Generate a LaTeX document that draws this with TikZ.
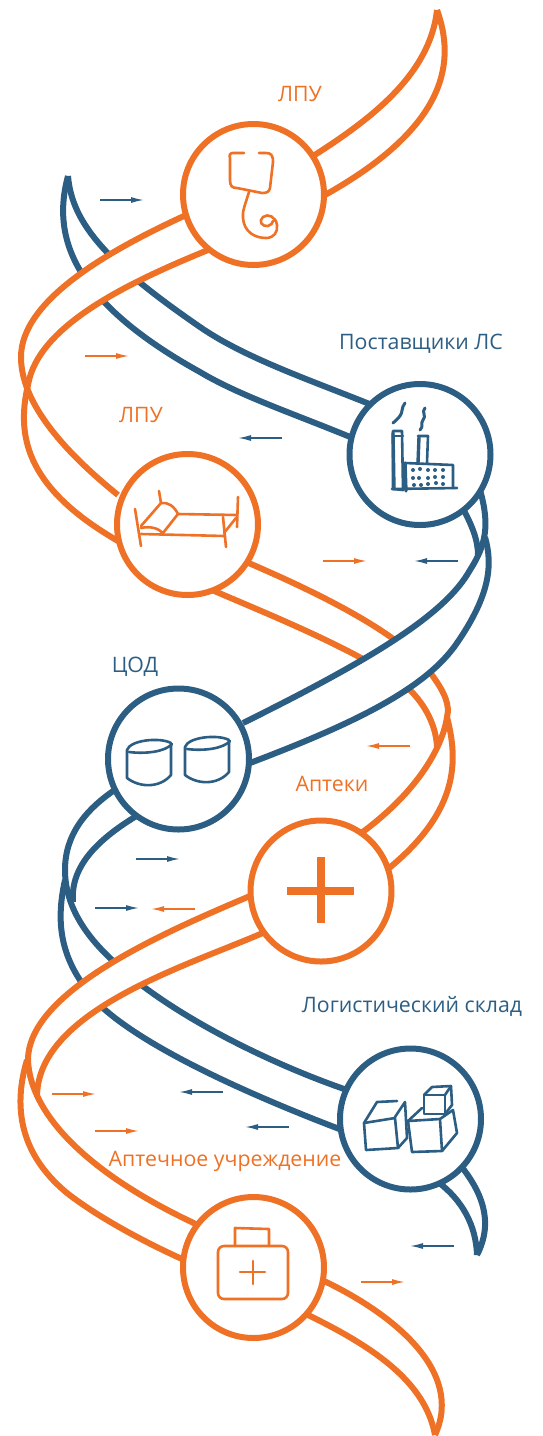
\documentclass[tikz,border=0pt]{standalone}
\usepackage{fontspec}
\setmainfont{Open Sans}
\usetikzlibrary{arrows.meta}
\definecolor{helixorange}{RGB}{238,113,37}
\definecolor{helixblue}{RGB}{44,94,132}
\tikzset{
  orangeedge/.style={draw=helixorange,line width=6pt},
  blueedge/.style={draw=helixblue,line width=6pt},
  orangering/.style={circle,draw=helixorange,fill=white,line width=6pt,minimum size=141pt,inner sep=0pt},
  bluering/.style={circle,draw=helixblue,fill=white,line width=6pt,minimum size=141pt,inner sep=0pt},
  orangeflow/.style={draw=helixorange,line width=1.5pt,-{Latex[length=13pt,width=6pt]}},
  blueflow/.style={draw=helixblue,line width=1.5pt,-{Latex[length=13pt,width=6pt]}},
  orangeicon/.style={draw=helixorange,line width=2.6pt,line cap=round,line join=round},
  blueicon/.style={draw=helixblue,line width=2.6pt,line cap=round,line join=round},
  orangelabel/.style={text=helixorange,font=\fontsize{21.3}{25}\selectfont,inner sep=0pt},
  bluelabel/.style={text=helixblue,font=\fontsize{21.3}{25}\selectfont,inner sep=0pt}
}
\begin{document}
\begin{tikzpicture}[x=1pt,y=-1pt]%
\useasboundingbox (0,0) rectangle (542,1436);%
\draw[orangeedge] (437,10) .. controls (430,75) and (370,120) .. (310,158);%
\draw[orangeedge] (437,10) .. controls (455,60) and (450,125) .. (325,195);%
\draw[blueedge] (68,176) .. controls (72,225) and (110,265) .. (200,327) .. controls (245,358) and (310,380) .. (372,405);%
\draw[blueedge] (68,176) .. controls (52,235) and (70,300) .. (200,372) .. controls (240,396) and (300,416) .. (355,439);%
\fill[white] (184,216) .. controls (110,250) and (21,300) .. (21,357) -- (28,385) .. controls (38,325) and (130,282) .. (208,250) -- cycle;%
\draw[orangeedge] (184,216) .. controls (110,250) and (21,300) .. (21,357) .. controls (21,395) and (50,440) .. (118,495);%
\draw[orangeedge] (208,250) .. controls (130,282) and (38,325) .. (28,385) .. controls (15,440) and (30,490) .. (118,541);%
\draw[orangeedge] (244,561) .. controls (300,585) and (400,630) .. (432,675) .. controls (445,693) and (450,705) .. (447,717) .. controls (443,745) and (420,790) .. (360,834);%
\draw[orangeedge] (212,590) .. controls (270,615) and (370,655) .. (410,690) .. controls (425,705) and (436,725) .. (437,747);%
\draw[orangeedge] (447,717) .. controls (458,760) and (460,810) .. (388,869);%
\fill[white] (470,570) .. controls (445,615) and (370,660) .. (243,723) -- (250,763) .. controls (350,725) and (425,690) .. (457,643) -- cycle;%
\draw[blueedge] (480,490) .. controls (490,525) and (486,545) .. (470,570) .. controls (445,615) and (370,660) .. (243,723);%
\draw[blueedge] (485,537) .. controls (493,565) and (490,595) .. (457,643) .. controls (425,690) and (350,725) .. (250,763);%
\draw[blueedge] (461,505) .. controls (472,525) and (478,540) .. (478,555);%
\draw[blueedge] (116,789) .. controls (85,810) and (65,835) .. (65,870) .. controls (65,895) and (75,925) .. (110,958) .. controls (160,1008) and (260,1060) .. (347,1090);%
\draw[blueedge] (138,815) .. controls (100,838) and (70,865) .. (73,902);%
\draw[blueedge] (65,880) .. controls (55,925) and (60,965) .. (103,1008) .. controls (150,1050) and (250,1095) .. (342,1130);%
\fill[white] (250,896) .. controls (170,930) and (28,990) .. (28,1060) -- (37,1097) .. controls (37,1010) and (190,965) .. (265,932) -- cycle;%
\draw[orangeedge] (250,896) .. controls (170,930) and (28,990) .. (28,1060) .. controls (30,1115) and (90,1175) .. (198,1225);%
\draw[orangeedge] (265,932) .. controls (190,965) and (37,1010) .. (37,1097);%
\draw[orangeedge] (27,1060) .. controls (15,1100) and (15,1150) .. (67,1193) .. controls (95,1215) and (140,1240) .. (182,1259);%
\draw[blueedge] (438,1182) .. controls (462,1200) and (476,1225) .. (477,1255);%
\draw[blueedge] (461,1166) .. controls (480,1190) and (495,1220) .. (477,1255);%
\draw[orangeedge] (322,1280) .. controls (390,1312) and (465,1370) .. (435,1435);%
\draw[orangeedge] (304,1313) .. controls (370,1345) and (425,1380) .. (435,1435);%
\node[orangering] (clinic) at (253.5,194.5) {};%
\node[bluering] (supplier) at (420,454.5) {};%
\node[orangering] (ward) at (187.5,524.5) {};%
\node[bluering] (datacenter) at (178.5,759) {};%
\node[orangering] (pharmacy) at (321,891) {};%
\node[bluering] (warehouse) at (410.5,1119) {};%
\node[orangering] (dispensary) at (253.5,1267.5) {};%
\node[orangelabel] (clinictext) at (300,94) {ЛПУ};%
\node[bluelabel] (suppliertext) at (421,344) {Поставщики ЛС};%
\node[orangelabel] (wardtext) at (141,415) {ЛПУ};%
\node[bluelabel] (datacentertext) at (135,667) {ЦОД};%
\node[orangelabel] (pharmacytext) at (332,784) {Аптеки};%
\node[bluelabel] (warehousetext) at (412,1006) {Логистический склад};%
\node[orangelabel] (dispensarytext) at (225,1161) {Аптечное учреждение};%
\draw[blueflow] (100,200) -- (144,200);%
\draw[orangeflow] (85,356) -- (129,356);%
\draw[blueflow] (282,438) -- (238,438);%
\draw[orangeflow] (323,561) -- (367,561);%
\draw[blueflow] (458,561) -- (414,561);%
\draw[orangeflow] (410,746) -- (366,746);%
\draw[blueflow] (136,859) -- (180,859);%
\draw[blueflow] (95,908) -- (139,908);%
\draw[orangeflow] (195,909) -- (151,909);%
\draw[orangeflow] (52,1094) -- (96,1094);%
\draw[blueflow] (223,1092) -- (179,1092);%
\draw[orangeflow] (95,1131) -- (139,1131);%
\draw[blueflow] (289,1127) -- (245,1127);%
\draw[blueflow] (454,1246) -- (410,1246);%
\draw[orangeflow] (361,1282) -- (405,1282);%
\draw[orangeicon] (244,153) -- (233,153) .. controls (230,153) and (229,155) .. (230,158) -- (230,180) .. controls (230,186) and (232,188) .. (237,188) -- (262,193) .. controls (267,193) and (269,192) .. (270,188) -- (273,162) .. controls (273,155) and (271,153) .. (266,153) -- (259,153);%
\draw[orangeicon] (249,192) .. controls (245,205) and (242,212) .. (243,218) .. controls (244,232) and (255,238) .. (266,238) .. controls (274,238) and (278,232) .. (277,225) .. controls (276,217) and (268,213) .. (263,217) .. controls (258,221) and (262,227) .. (268,226) .. controls (271,225) and (273,223) .. (273,221);%
\draw[blueicon] (393,431) -- (402,431) -- (403,490) -- (393,489) -- cycle;%
\draw[blueicon] (393,436) -- (403,436);%
\draw[blueicon,line width=3.4pt] (393,433) -- (394,488);%
\draw[blueicon] (418,436) -- (428,436) -- (427,463);%
\draw[blueicon,line width=3.4pt] (419,437) -- (418,463);%
\draw[blueicon] (405,463) -- (453,465) -- (453,488);%
\draw[blueicon,line width=3.4pt] (405,463) -- (406,491);%
\draw[blueicon] (392,489) -- (457,488);%
\foreach \winx/\winy in {413/470,420/469,428/470,435/470,443/470,413/478,419/478,428/478,435/477,443/477,414/485,421/485,428/484,436/483,443/484}
  \fill[helixblue] (\winx,\winy) circle[radius=2pt];%
\draw[blueicon,line width=3pt] (405,403) .. controls (401,408) and (403,412) .. (400,416) .. controls (398,419) and (395,421) .. (393,423);%
\draw[blueicon,line width=3pt] (425,408) .. controls (421,412) and (427,416) .. (423,420) .. controls (420,424) and (424,426) .. (420,430);%
\draw[orangeicon] (135,509) -- (141,546);%
\draw[orangeicon] (238,497) -- (237,527);%
\draw[orangeicon] (223,517) -- (226,547);%
\draw[orangeicon] (159,491) -- (161,503);%
\draw[orangeicon] (141,534) -- (225,536);%
\draw[orangeicon] (178,514) -- (237,515);%
\draw[orangeicon] (224,533) -- (236,518);%
\draw[orangeicon] (141,526) -- (161,503) .. controls (168,502) and (174,506) .. (178,514) -- (163,533);%
\draw[orangeicon] (141,528) .. controls (150,526) and (158,528) .. (163,533);%
\draw[blueicon] (127,750) .. controls (130,740) and (160,737) .. (171,743);%
\draw[blueicon] (129,752) .. controls (145,754) and (165,752) .. (172,744);%
\draw[blueicon] (127,750) -- (127,778) .. controls (140,788) and (160,788) .. (171,775) -- (171,745);%
\draw[blueicon] (185,747) .. controls (188,737) and (218,734) .. (229,740);%
\draw[blueicon] (187,749) .. controls (203,751) and (223,749) .. (230,741);%
\draw[blueicon] (185,747) -- (185,775) .. controls (198,785) and (218,785) .. (229,772) -- (229,742);%
\draw[line width=8pt,draw=helixorange] (321,857) -- (321,923);%
\draw[line width=8pt,draw=helixorange] (287,891) -- (354,891);%
\draw[blueicon] (364,1123) -- (395,1118) -- (398,1148) -- (366,1150) -- cycle;%
\draw[blueicon] (364,1123) -- (377,1102) -- (397,1101);%
\draw[blueicon] (395,1117) -- (405,1102) -- (407,1138) -- (398,1148);%
\draw[blueicon] (408,1121) -- (440,1119) -- (442,1151) -- (412,1152) -- cycle;%
\draw[blueicon] (408,1121) -- (422,1108);%
\draw[blueicon] (440,1119) -- (453,1110) -- (457,1133) -- (442,1151);%
\draw[blueicon] (424,1095) -- (445,1095) -- (445,1114) -- (424,1114) -- cycle;%
\draw[blueicon] (424,1095) -- (432,1087) -- (451,1086) -- (452,1105) -- (445,1114);%
\draw[blueicon] (445,1095) -- (451,1086);%
\draw[orangeicon,rounded corners=6pt] (218,1246) rectangle (288,1299);%
\draw[orangeicon] (235,1246) -- (235,1228) -- (269,1229) -- (269,1246);%
\draw[orangeicon] (240,1272) -- (265,1272);%
\draw[orangeicon] (253,1261) -- (253,1284);%
\end{tikzpicture}
\end{document}
